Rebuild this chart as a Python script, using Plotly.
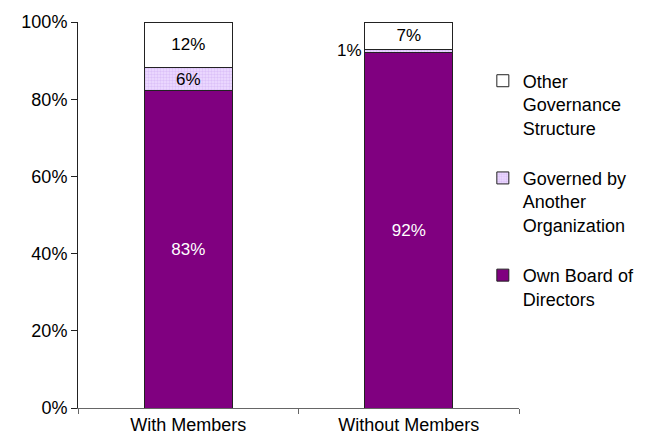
import plotly.graph_objects as go

categories = ["With Members", "Without Members"]
own_board = [83, 92]
another_org = [6, 1]
other_structure = [12, 7]
y_ticks = [0, 20, 40, 60, 80, 100]

font_family = "Arial, Liberation Sans, sans-serif"
label_size = 17

fig = go.Figure()

fig.add_trace(go.Bar(
    name="Own Board of<br>Directors",
    legendgroup="own", legendrank=3,
    x=categories, y=own_board,
    text=[f"{v}%" for v in own_board],
    textposition="inside", insidetextanchor="middle",
    constraintext="none",
    textfont=dict(color="white", size=label_size, family=font_family),
    marker=dict(color="#800080", line=dict(color="#222222", width=1)),
))

# The thin 1% slice gets its label outside the bar via an annotation
another_text = [f"{v}%" if v >= 3 else "" for v in another_org]
fig.add_trace(go.Bar(
    name="Governed by<br>Another<br>Organization",
    legendgroup="another", legendrank=2,
    x=categories, y=another_org,
    text=another_text,
    textposition="inside", insidetextanchor="middle",
    constraintext="none",
    textfont=dict(color="black", size=label_size, family=font_family),
    marker=dict(color="#E8D4FF",
                pattern=dict(shape=".", fgcolor="#C9A6F2", bgcolor="#EEDDFF",
                             size=3, solidity=0.5),
                line=dict(color="#222222", width=1)),
))

fig.add_trace(go.Bar(
    name="Other<br>Governance<br>Structure",
    legendgroup="other", legendrank=1,
    x=categories, y=other_structure,
    text=[f"{v}%" for v in other_structure],
    textposition="inside", insidetextanchor="middle",
    constraintext="none",
    textfont=dict(color="black", size=label_size, family=font_family),
    marker=dict(color="white", line=dict(color="#222222", width=1)),
))

for i, cat in enumerate(categories):
    if another_org[i] < 3:
        total = own_board[i] + another_org[i] + other_structure[i]
        mid = (own_board[i] + another_org[i] / 2) / total * 100
        fig.add_annotation(
            x=cat, y=mid, text=f"{another_org[i]}%",
            showarrow=False, xanchor="right", xshift=-45,
            font=dict(size=label_size, color="black", family=font_family),
        )

fig.update_layout(
    barmode="stack",
    barnorm="percent",
    bargap=0.6,
    width=658, height=448,
    margin=dict(l=78, r=139, t=15, b=40),
    plot_bgcolor="white", paper_bgcolor="white",
    font=dict(family=font_family, size=18, color="black"),
    showlegend=True,
    legend=dict(
        traceorder="grouped",
        x=0.918, xanchor="left", y=0.895, yanchor="top",
        valign="top",
        font=dict(size=18, color="black"),
        tracegroupgap=24,
        itemwidth=30,
        bgcolor="rgba(0,0,0,0)",
    ),
)

fig.update_xaxes(
    type="category",
    showline=True, linecolor="#666666", linewidth=1,
    ticks="outside", ticklen=5, tickcolor="#666666",
    tickson="boundaries",
    showgrid=False,
    tickfont=dict(size=18, color="black"),
)
fig.update_yaxes(
    range=[0, 100],
    tickvals=y_ticks,
    ticktext=[f"{t}%" for t in y_ticks],
    showline=True, linecolor="#222222", linewidth=1,
    ticks="outside", ticklen=6, tickcolor="#222222",
    showgrid=False, zeroline=False,
    tickfont=dict(size=18, color="black"),
)

fig.write_html("out.html")
